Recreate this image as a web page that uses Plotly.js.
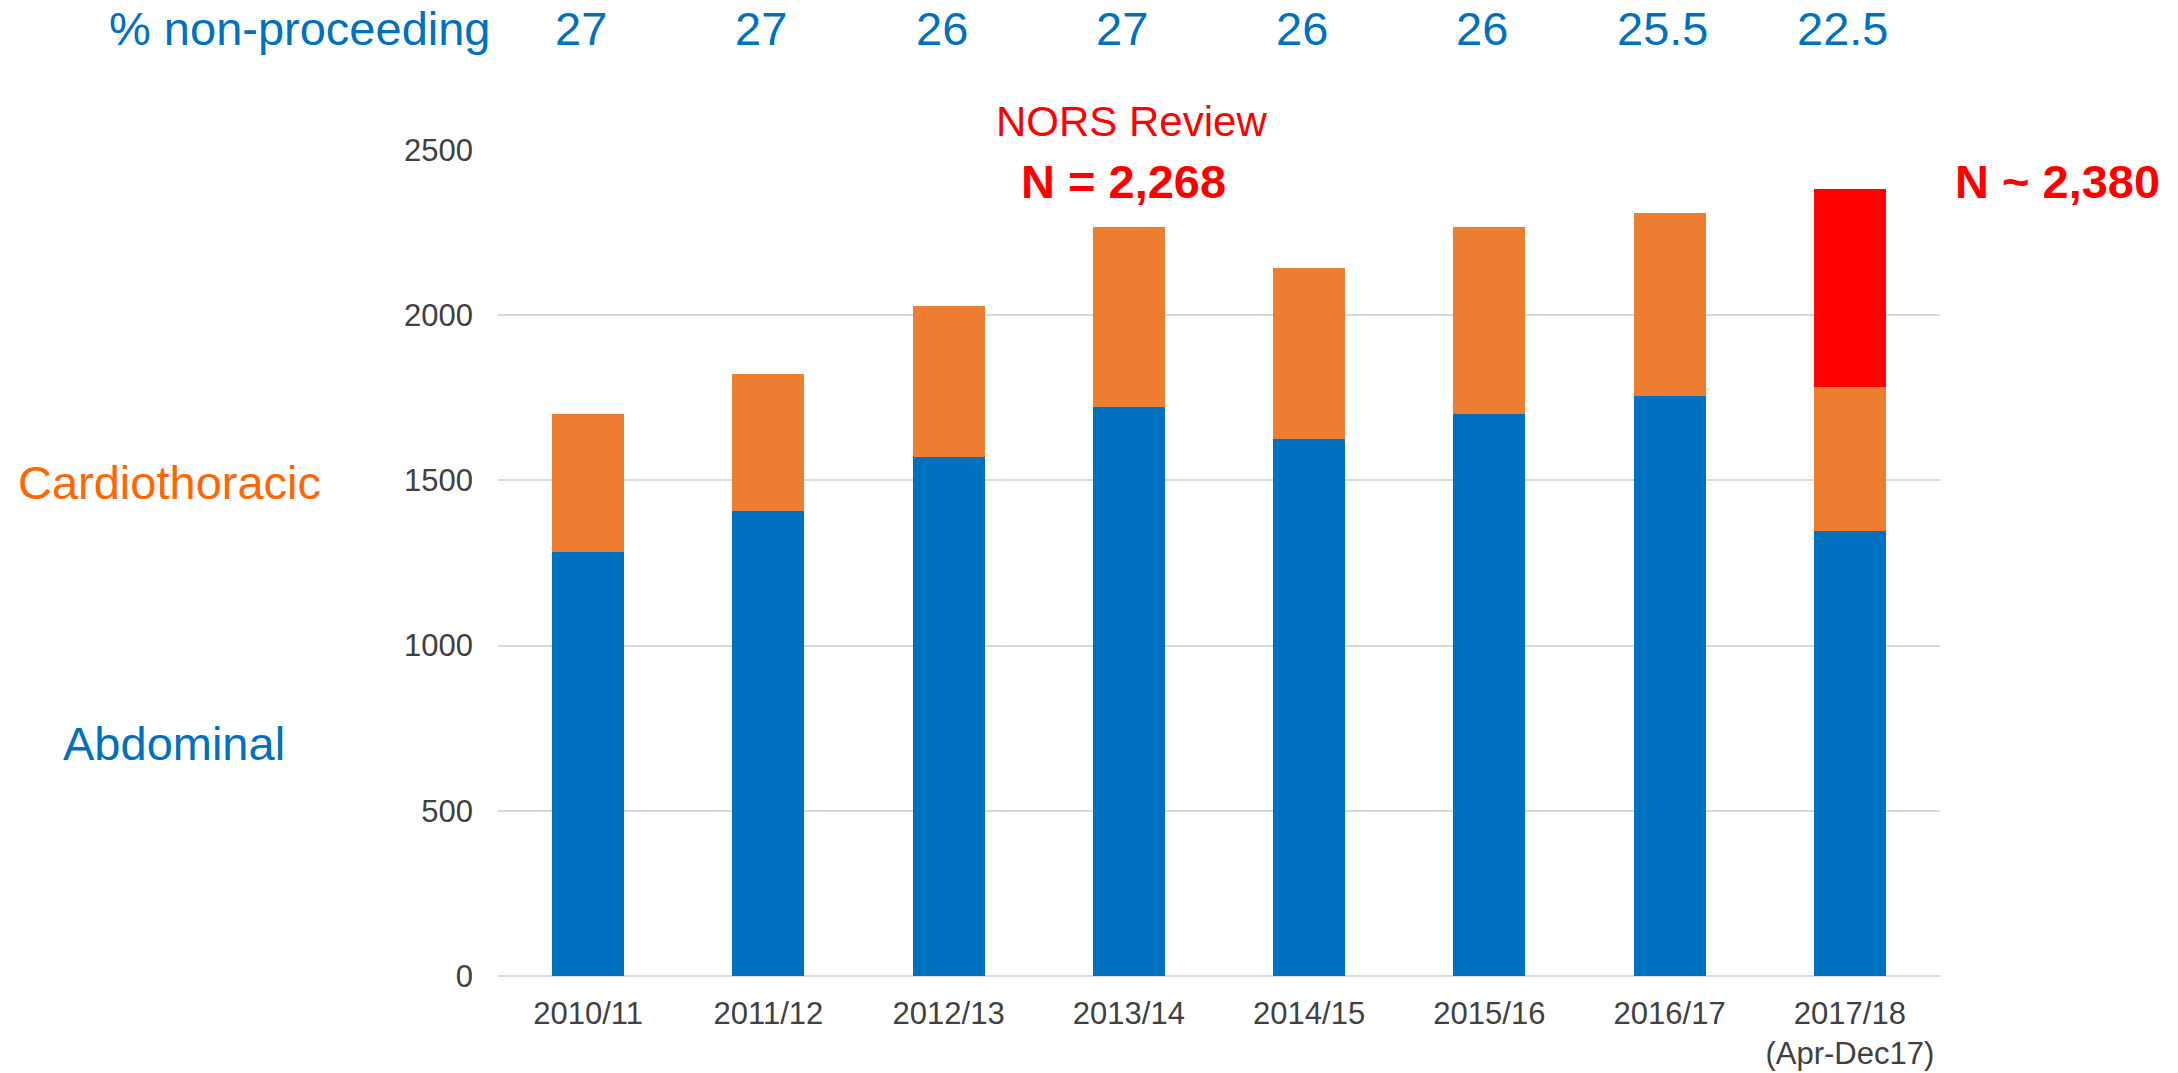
<!DOCTYPE html>
<html>
<head>
<meta charset="utf-8">
<script src="https://cdn.plot.ly/plotly-3.0.1.min.js"></script>
<style>
  html, body { margin: 0; padding: 0; background: #ffffff; }
  #chart { width: 2178px; height: 1073px; }
</style>
</head>
<body>
<div id="chart"></div>
<script>
// ---- data ----
const categories = ['2010/11', '2011/12', '2012/13', '2013/14', '2014/15', '2015/16', '2016/17', '2017/18<br>(Apr-Dec17)'];
const abdominal      = [1284, 1407, 1571, 1723, 1626, 1700, 1754, 1347];
const cardiothoracic = [ 416,  414,  457,  545,  518,  566,  554,  437];
const projected      = [null, null, null, null, null, null, null,  598];
const pctNonProceeding = ['27', '27', '26', '27', '26', '26', '25.5', '22.5'];
const yTicks = [0, 500, 1000, 1500, 2000, 2500];

const FONT = 'Liberation Sans, Arial, sans-serif';
const BLUE = '#0070C0';
const ORANGE = '#ED7D31';
const RED = '#FF0000';

const traces = [
  { type: 'bar', name: 'Abdominal', x: categories, y: abdominal,
    marker: { color: BLUE, line: { width: 0 } }, hoverinfo: 'x+y+name' },
  { type: 'bar', name: 'Cardiothoracic', x: categories, y: cardiothoracic,
    marker: { color: ORANGE, line: { width: 0 } }, hoverinfo: 'x+y+name' },
  { type: 'bar', name: 'Projected', x: categories, y: projected,
    marker: { color: RED, line: { width: 0 } }, hoverinfo: 'x+y+name' }
];

const annotations = [];
// top row: % non-proceeding values above each category
categories.forEach((c, i) => {
  annotations.push({
    x: c, xref: 'x', y: 1.1465, yref: 'paper', yanchor: 'middle', xanchor: 'center',
    xshift: -7, text: pctNonProceeding[i], showarrow: false,
    font: { family: FONT, size: 47, color: BLUE }
  });
});
annotations.push({
  x: -0.0035, xref: 'paper', y: 1.1465, yref: 'paper', xanchor: 'right', yanchor: 'middle',
  text: '% non-proceeding', showarrow: false, font: { family: FONT, size: 47, color: BLUE }
});
annotations.push({
  x: categories[3], xref: 'x', y: 1.0339, yref: 'paper', xanchor: 'center', yanchor: 'middle',
  xshift: 3, text: 'NORS Review', showarrow: false, font: { family: FONT, size: 42, color: RED }
});
annotations.push({
  x: categories[3], xref: 'x', y: 0.9613, yref: 'paper', xanchor: 'center', yanchor: 'middle',
  xshift: -5, text: '<b>N = 2,268</b>', showarrow: false, font: { family: FONT, size: 47, color: RED }
});
annotations.push({
  x: 1.0818, xref: 'paper', y: 0.9613, yref: 'paper', xanchor: 'center', yanchor: 'middle',
  text: '<b>N ~ 2,380</b>', showarrow: false, font: { family: FONT, size: 47, color: RED }
});
annotations.push({
  x: -0.2275, xref: 'paper', y: 0.598, yref: 'paper', xanchor: 'center', yanchor: 'middle',
  text: 'Cardiothoracic', showarrow: false, font: { family: FONT, size: 47, color: '#FF6600' }
});
annotations.push({
  x: -0.2247, xref: 'paper', y: 0.2809, yref: 'paper', xanchor: 'center', yanchor: 'middle',
  text: 'Abdominal', showarrow: false, font: { family: FONT, size: 47, color: BLUE }
});

const layout = {
  width: 2178, height: 1073,
  margin: { l: 498, r: 238, t: 150, b: 97 },
  paper_bgcolor: '#ffffff', plot_bgcolor: '#ffffff',
  barmode: 'stack', bargap: 0.6,
  showlegend: false,
  font: { family: FONT, color: '#404040' },
  xaxis: {
    type: 'category', categoryorder: 'array', categoryarray: categories,
    showgrid: false, zeroline: false, showline: false, ticks: '',
    tickfont: { family: FONT, size: 31, color: '#404040' },
    ticklabelstandoff: 16
  },
  yaxis: {
    range: [0, 2500], tickvals: yTicks, ticktext: yTicks.map(String),
    showgrid: true, gridcolor: '#D9D9D9', gridwidth: 2,
    zeroline: true, zerolinecolor: '#D9D9D9', zerolinewidth: 2,
    showline: false, ticks: '',
    tickfont: { family: FONT, size: 31, color: '#404040' },
    ticklabelstandoff: 24
  },
  annotations: annotations
};

Plotly.newPlot('chart', traces, layout, { staticPlot: true, displayModeBar: false });
</script>
</body>
</html>
